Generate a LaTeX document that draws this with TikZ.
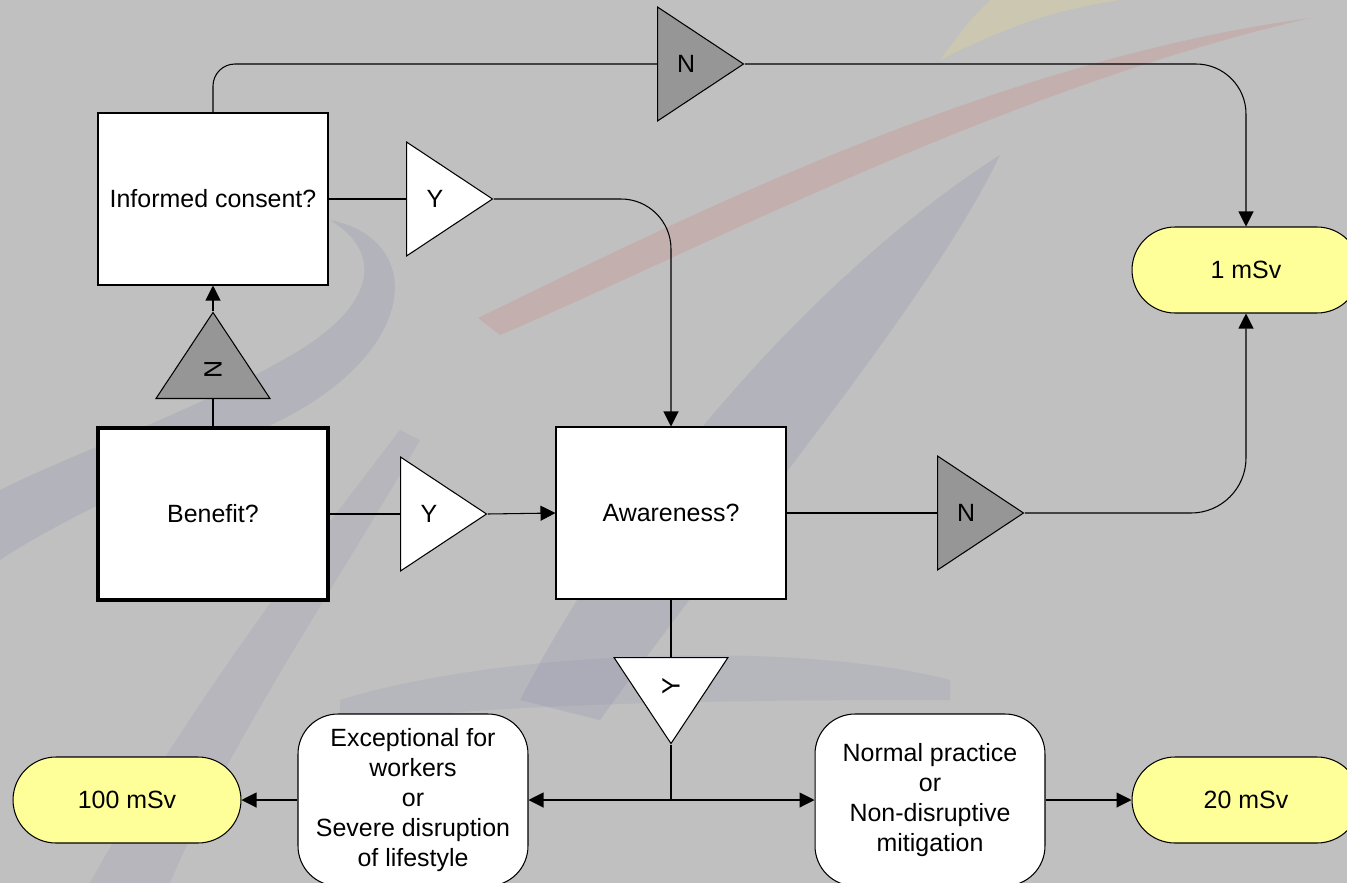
\documentclass[tikz,border=0pt]{standalone}
\usepackage{fontspec}
\setmainfont{Liberation Sans}
\usetikzlibrary{shapes.geometric,arrows.meta,positioning}

\definecolor{slide}{HTML}{C0C0C0}
\definecolor{nogray}{HTML}{969696}
\definecolor{doseyellow}{HTML}{FFFF99}
\definecolor{swblue}{HTML}{8E90B0}
\definecolor{swred}{HTML}{D08888}
\definecolor{swyellow}{HTML}{E8D890}

\tikzset{
  question/.style={draw, fill=white, minimum width=4.6cm, minimum height=3.44cm},
  outcome/.style={draw, fill=white, rounded corners=0.8cm, minimum width=4.6cm, minimum height=3.44cm, align=center},
  dose/.style={draw, fill=doseyellow, rounded corners=0.86cm, minimum width=4.56cm, minimum height=1.72cm},
  yesmark/.style={draw, fill=white, isosceles triangle, isosceles triangle stretches, minimum width=2.28cm, minimum height=1.72cm, inner sep=0pt, anchor=lower side},
  nomark/.style={yesmark, fill=nogray},
  flow/.style={-{Triangle[length=0.3cm,width=0.3cm]}},
}

\begin{document}
\begin{tikzpicture}[x=0.02cm, y=-0.02cm, line width=0.6pt, font=\fontsize{14.2pt}{17pt}\selectfont]
\useasboundingbox (0,0) rectangle (1347,883);
\clip (0,0) rectangle (1347,883);
\fill[slide] (0,0) rectangle (1347,883);

% faint logo swooshes behind the chart
\fill[swblue, opacity=0.25] (330,220) .. controls (430,240) and (420,360) .. (260,430) .. controls (160,475) and (60,520) .. (0,560) -- (0,490) .. controls (80,450) and (200,410) .. (300,350) .. controls (380,300) and (380,250) .. (330,220) -- cycle;
\fill[swblue, opacity=0.2] (90,883) .. controls (180,720) and (300,560) .. (400,430) -- (420,440) .. controls (340,580) and (230,740) .. (170,883) -- cycle;
\fill[swblue, opacity=0.25] (520,700) .. controls (650,450) and (850,250) .. (1000,155) .. controls (930,300) and (760,500) .. (600,720) -- cycle;
\fill[swblue, opacity=0.18] (340,700) .. controls (500,650) and (800,640) .. (950,680) -- (950,700) .. controls (800,700) and (500,700) .. (340,725) -- cycle;
\fill[swred, opacity=0.3] (478,318) .. controls (700,210) and (1000,60) .. (1310,18) .. controls (1000,90) and (700,250) .. (500,335) -- cycle;
\fill[swyellow, opacity=0.3] (940,60) .. controls (1000,30) and (1050,10) .. (1120,0) -- (990,0) .. controls (970,20) .. (940,60) -- cycle;

% questions
\node[question] (consent) at (213,199) {Informed consent?};
\node[question, line width=2.8pt] (benefit) at (213,514) {Benefit?};
\node[question] (aware) at (671,513) {Awareness?};

% answers
\node[nomark] (consentno) at (657,64) {N};
\node[yesmark] (consentyes) at (406,199) {Y};
\node[nomark, rotate=90] (benefitno) at (213,399) {N};
\node[yesmark] (benefityes) at (400,514) {Y};
\node[nomark] (awareno) at (937,513) {N};
\node[yesmark, rotate=-90] (awareyes) at (671,657) {\rotatebox{180}{Y}};

% outcomes
\node[outcome] (except) at (413,800) {Exceptional for\\workers\\or\\Severe disruption\\of lifestyle};
\node[outcome] (normal) at (930,800) {Normal practice\\or\\Non-disruptive\\mitigation};
\node[dose] (one) at (1246,270) {1 mSv};
\node[dose] (hundred) at (127,800) {100 mSv};
\node[dose] (twenty) at (1246,800) {20 mSv};
\coordinate (split) at (671,800);

% connectors
\draw[rounded corners=0.44cm] (consent.north) |- (consentno.lower side);
\draw[flow, rounded corners=1cm] (consentno.apex) -| (one.north);
\draw (consent.east) -- (consentyes.lower side);
\draw[flow, rounded corners=1cm] (consentyes.apex) -| (aware.north);
\draw (benefit.north) -- (benefitno.lower side);
\draw[flow] (benefitno.apex) -- (consent.south);
\draw (benefit.east) -- (benefityes.lower side);
\draw[flow] (benefityes.apex) -- (aware.west);
\draw (aware.east) -- (awareno.lower side);
\draw[flow, rounded corners=1.1cm] (awareno.apex) -| (one.south);
\draw (aware.south) -- (awareyes.lower side);
\draw (awareyes.apex) -- (split);
\draw[flow] (split) -- (except.east);
\draw[flow] (split) -- (normal.west);
\draw[flow] (except.west) -- (hundred.east);
\draw[flow] (normal.east) -- (twenty.west);
\end{tikzpicture}
\end{document}
